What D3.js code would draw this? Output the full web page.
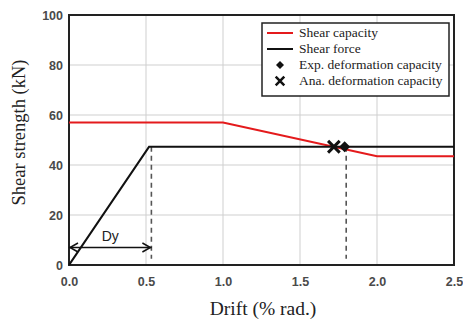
<!DOCTYPE html>
<html><head><meta charset="utf-8">
<script src="https://cdn.jsdelivr.net/npm/d3@7"></script>
<style>body{margin:0;background:#fff}svg{display:block}</style>
</head><body><svg id="c" width="463" height="322"></svg>
<script>
const xTicks = [0, 0.5, 1.0, 1.5, 2.0, 2.5];
const yTicks = [0, 20, 40, 60, 80, 100];
const capacityX = [0, 1.0, 2.0, 2.5];
const capacityY = [57, 57, 43.5, 43.5];
const forceX = [0, 0.52, 2.5];
const forceY = [0, 47.3, 47.3];
const dashX = [0.535, 1.8];
const dashTop = 47.3;
const expPoint = [1.79, 47.3];
const anaPoint = [1.72, 47.3];
const dyY = 7;
const dyRange = [0, 0.535];
const legendLabels = ["Shear capacity", "Shear force", "Exp. deformation capacity", "Ana. deformation capacity"];

const svg = d3.select("#c");
const M = {l: 69, r: 454, t: 15, b: 265};
const x = d3.scaleLinear().domain([0, 2.5]).range([M.l, M.r]);
const y = d3.scaleLinear().domain([0, 100]).range([M.b, M.t]);

// grid
svg.append("g").selectAll("line").data(xTicks.slice(1, -1)).join("line")
  .attr("x1", d => x(d)).attr("x2", d => x(d)).attr("y1", M.t).attr("y2", M.b)
  .attr("stroke", "#cfcfcf").attr("stroke-width", 1);
svg.append("g").selectAll("line").data(yTicks.slice(1, -1)).join("line")
  .attr("y1", d => y(d)).attr("y2", d => y(d)).attr("x1", M.l).attr("x2", M.r)
  .attr("stroke", "#cfcfcf").attr("stroke-width", 1);

// axes
const xAxis = svg.append("g").attr("transform", `translate(0,${M.b})`)
  .call(d3.axisBottom(x).tickValues(xTicks).tickFormat(d3.format(".1f")).tickSize(0).tickPadding(12));
const yAxis = svg.append("g").attr("transform", `translate(${M.l},0)`)
  .call(d3.axisLeft(y).tickValues(yTicks).tickSize(0).tickPadding(6));
[xAxis, yAxis].forEach(g => {
  g.select(".domain").remove();
  g.selectAll("text").attr("font-family", "Liberation Sans, Arial, sans-serif")
    .attr("font-size", 12.5).attr("font-weight", "bold").attr("fill", "#4a4a4a");
});

// frame
svg.append("rect").attr("x", M.l).attr("y", M.t).attr("width", M.r - M.l).attr("height", M.b - M.t)
  .attr("fill", "none").attr("stroke", "#222").attr("stroke-width", 2);

// dashed verticals
svg.append("g").selectAll("line").data(dashX).join("line")
  .attr("x1", d => x(d)).attr("x2", d => x(d)).attr("y1", y(dashTop)).attr("y2", y(2.5))
  .attr("stroke", "#555").attr("stroke-width", 1.6).attr("stroke-dasharray", "5,4");

const line = d3.line().x(d => x(d[0])).y(d => y(d[1]));
svg.append("path").datum(capacityX.map((v, i) => [v, capacityY[i]]))
  .attr("d", line).attr("fill", "none").attr("stroke", "#e41a1c").attr("stroke-width", 2);
svg.append("path").datum(forceX.map((v, i) => [v, forceY[i]]))
  .attr("d", line).attr("fill", "none").attr("stroke", "#111").attr("stroke-width", 2.2);

// markers
const diamondPath = r => `M0,${-r}L${r},0L0,${r}L${-r},0Z`;
const cross = d3.symbol().type(d3.symbolX).size(90);
svg.append("path").attr("d", diamondPath(5.5)).attr("transform", `translate(${x(expPoint[0])},${y(expPoint[1])})`).attr("fill", "#111");
svg.append("path").attr("d", cross()).attr("transform", `translate(${x(anaPoint[0])},${y(anaPoint[1])})`)
  .attr("fill", "none").attr("stroke", "#111").attr("stroke-width", 3);

// Dy arrow
const ay = y(dyY);
svg.append("line").attr("x1", x(dyRange[0])).attr("x2", x(dyRange[1])).attr("y1", ay).attr("y2", ay)
  .attr("stroke", "#111").attr("stroke-width", 1.5);
const x0 = x(dyRange[0]), x1 = x(dyRange[1]);
svg.append("path").attr("d", `M${x0 + 9},${ay - 4.5}L${x0 + 1},${ay}L${x0 + 9},${ay + 4.5}`)
  .attr("fill", "none").attr("stroke", "#111").attr("stroke-width", 1.5);
svg.append("path").attr("d", `M${x1 - 9},${ay - 4.5}L${x1 - 1},${ay}L${x1 - 9},${ay + 4.5}`)
  .attr("fill", "none").attr("stroke", "#111").attr("stroke-width", 1.5);
svg.append("text").attr("x", (x0 + x1) / 2).attr("y", ay - 7).attr("text-anchor", "middle")
  .attr("font-family", "Liberation Sans, Arial, sans-serif").attr("font-size", 14).attr("fill", "#222").text("Dy");

// legend
const lg = svg.append("g");
lg.append("rect").attr("x", 262).attr("y", 23).attr("width", 187).attr("height", 73)
  .attr("fill", "#fff").attr("stroke", "#222").attr("stroke-width", 1.5);
const ly = [33, 49, 65, 81];
lg.append("line").attr("x1", 267).attr("x2", 293).attr("y1", ly[0]).attr("y2", ly[0]).attr("stroke", "#e41a1c").attr("stroke-width", 2);
lg.append("line").attr("x1", 267).attr("x2", 293).attr("y1", ly[1]).attr("y2", ly[1]).attr("stroke", "#111").attr("stroke-width", 2);
lg.append("path").attr("d", diamondPath(4)).attr("transform", `translate(280,${ly[2]})`).attr("fill", "#111");
lg.append("path").attr("d", d3.symbol().type(d3.symbolX).size(50)()).attr("transform", `translate(280,${ly[3]})`)
  .attr("fill", "none").attr("stroke", "#111").attr("stroke-width", 2.5);
lg.selectAll("text").data(legendLabels).join("text")
  .attr("x", 299).attr("y", (d, i) => ly[i] + 4)
  .attr("font-family", "Liberation Serif, Times New Roman, serif").attr("font-size", 13.5).attr("fill", "#222").text(d => d);

// axis titles
svg.append("text").attr("x", 263).attr("y", 315).attr("text-anchor", "middle")
  .attr("font-family", "Liberation Serif, Times New Roman, serif").attr("font-size", 19.5).attr("fill", "#222").text("Drift (% rad.)");
svg.append("text").attr("transform", `translate(25,132.5) rotate(-90)`).attr("text-anchor", "middle")
  .attr("font-family", "Liberation Serif, Times New Roman, serif").attr("font-size", 18.5).attr("fill", "#222").text("Shear strength (kN)");
</script></body></html>
